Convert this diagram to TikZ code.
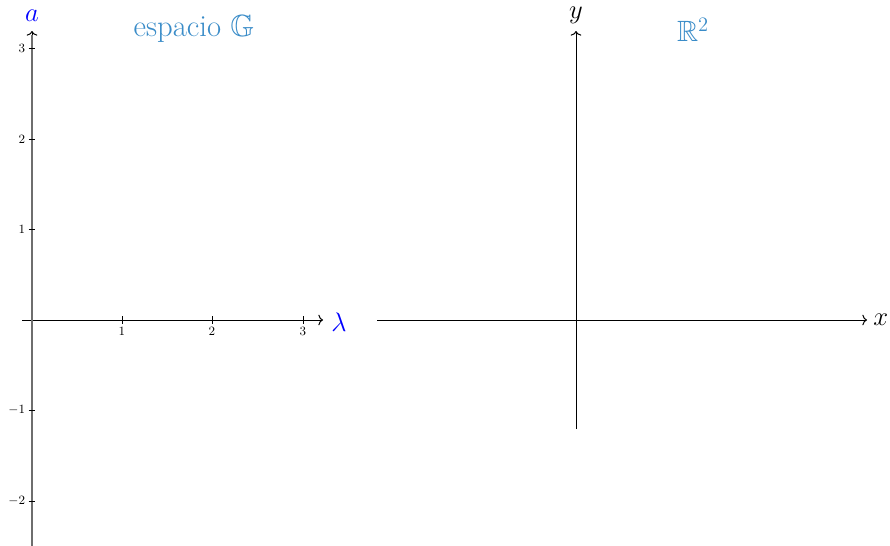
\documentclass[tikz,border=0pt]{standalone}
\usepackage{fix-cm}
\usepackage{amssymb}
\usetikzlibrary{arrows.meta}
\definecolor{titleblue}{RGB}{58,140,200}
\definecolor{axisgray}{RGB}{110,110,110}
\begin{document}
\begin{tikzpicture}[x=0.75pt,y=-0.75pt,
  axisline/.style={line width=0.75pt,-{To[length=3.5pt,width=8pt]}},
  tickline/.style={line width=0.6pt},
  ticklab/.style={font=\fontsize{9.5}{11}\selectfont,inner sep=1pt},
  biglab/.style={font=\fontsize{20}{24}\selectfont,inner sep=0pt},
  titlelab/.style={font=\fontsize{23}{27}\selectfont,text=titleblue,inner sep=0pt}]
\useasboundingbox (0,0) rectangle (890,546);
% left axes
\coordinate (gO) at (32,320);
\coordinate (gxs) at (22,320);
\coordinate (gxe) at (323,320);
\coordinate (gys) at (32,546);
\coordinate (gye) at (32,31);
\coordinate (gyg) at (32,35);
\draw[axisline] (gxs) -- (gxe);
\draw[axisline] (gys) -- (gye);
\draw[axisgray,line width=1.6pt] (gys) -- (gyg);
\foreach \v/\xx in {1/122,2/212,3/303}{
  \coordinate (tx\v) at (\xx,320);
  \draw[tickline] ([yshift=3pt]tx\v) -- ([yshift=-3pt]tx\v);
  \node[ticklab,anchor=north] (ltx\v) at ([yshift=-4.5pt]tx\v) {$\v$};
}
\foreach \n/\lab/\yy in {a/3/48,b/2/139,c/1/229,d/-1/410,e/-2/501}{
  \coordinate (ty\n) at (32,\yy);
  \draw[tickline] ([xshift=-2.5pt]ty\n) -- ([xshift=2.5pt]ty\n);
  \node[ticklab,anchor=east] (lty\n) at ([xshift=-4pt]ty\n) {$\lab$};
}
\node[biglab,text=blue] (alab) at (32,16) {$a$};
\node[biglab,text=blue,anchor=west] (llab) at (331,322) {$\lambda$};
\node[titlelab] (gtitle) at (194,29) {espacio $\mathbb{G}$};
% right axes
\coordinate (rxs) at (377,320);
\coordinate (rxe) at (867,320);
\coordinate (rys) at (576,429);
\coordinate (rye) at (576,31);
\draw[axisline] (rxs) -- (rxe);
\draw[axisline] (rys) -- (rye);
\node[biglab,anchor=west] (xlab) at (873,320) {$x$};
\node[biglab] (ylab) at (576,15.5) {$y$};
\node[titlelab,font=\fontsize{22}{26}\selectfont] (rtitle) at (693,30) {$\mathbb{R}^2$};
\end{tikzpicture}
\end{document}
